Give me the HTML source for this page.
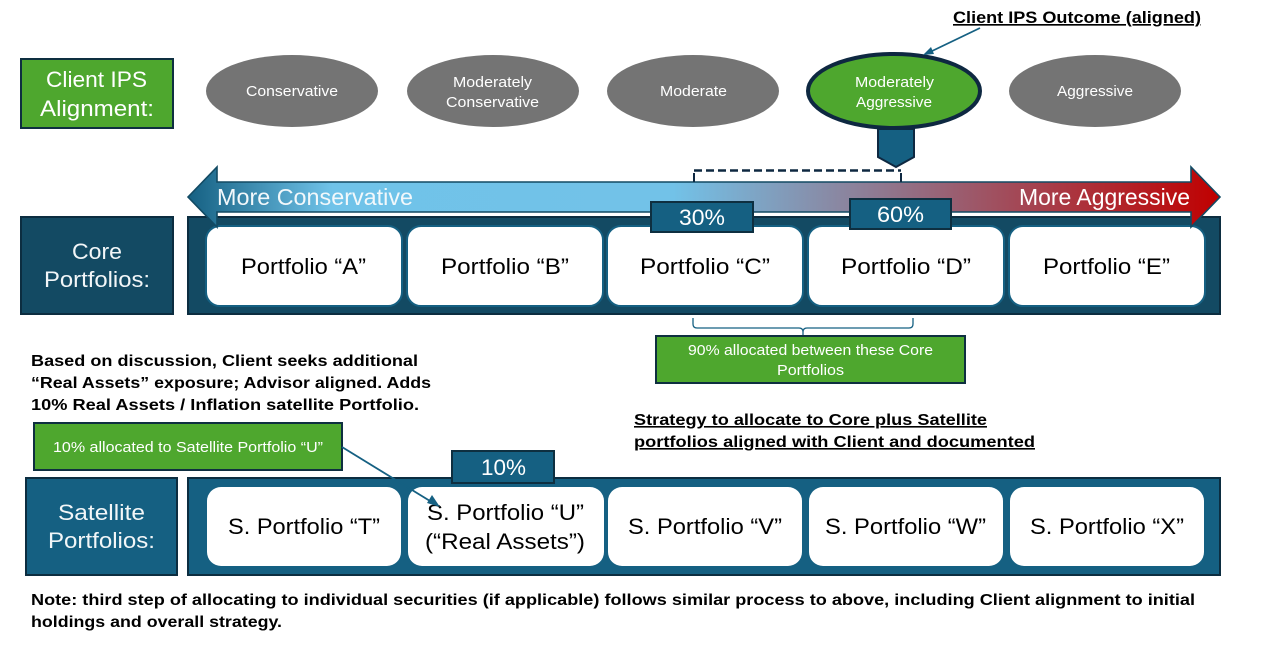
<!DOCTYPE html>
<html><head><meta charset="utf-8"><style>
html,body{margin:0;padding:0;background:#fff;width:1276px;height:648px;overflow:hidden}
svg{display:block}
text{font-family:"Liberation Sans",sans-serif}
.w{fill:#fff}.k{fill:#000}
.b{font-weight:bold;fill:#000;font-size:16px}
.p{font-size:22px;fill:#000}
.l{font-size:22px;fill:#f2f6f8}
.e{font-size:15px;fill:#fff}
</style></head><body>
<svg width="1276" height="648" viewBox="0 0 1276 648" xmlns="http://www.w3.org/2000/svg">
<defs>
<linearGradient id="g" gradientUnits="userSpaceOnUse" x1="188" y1="0" x2="1220" y2="0">
<stop offset="0" stop-color="#156082"/><stop offset=".14" stop-color="#70c3e9"/><stop offset=".47" stop-color="#72c2e8"/><stop offset="1" stop-color="#c00000"/>
</linearGradient>
</defs>

<!-- top row -->
<rect x="21" y="59" width="152" height="69" fill="#4ea72e" stroke="#0e2f40" stroke-width="2"/>
<text class="w" font-size="22" x="46" y="87" textLength="101" lengthAdjust="spacingAndGlyphs">Client IPS</text>
<text class="w" font-size="22" x="40" y="116" textLength="114" lengthAdjust="spacingAndGlyphs">Alignment:</text>

<ellipse cx="292" cy="91" rx="86" ry="36" fill="#747474"/>
<ellipse cx="493" cy="91" rx="86" ry="36" fill="#747474"/>
<ellipse cx="693" cy="91" rx="86" ry="36" fill="#747474"/>
<ellipse cx="1095" cy="91" rx="86" ry="36" fill="#747474"/>
<ellipse cx="894" cy="91" rx="86" ry="37" fill="#4ea72e" stroke="#0e2841" stroke-width="4"/>
<text class="e" x="246" y="96" textLength="92" lengthAdjust="spacingAndGlyphs">Conservative</text>
<text class="e" x="453" y="87" textLength="79" lengthAdjust="spacingAndGlyphs">Moderately</text>
<text class="e" x="446" y="107" textLength="93" lengthAdjust="spacingAndGlyphs">Conservative</text>
<text class="e" x="660" y="96" textLength="67" lengthAdjust="spacingAndGlyphs">Moderate</text>
<text class="e" x="855" y="87" textLength="79" lengthAdjust="spacingAndGlyphs">Moderately</text>
<text class="e" x="856" y="107" textLength="76" lengthAdjust="spacingAndGlyphs">Aggressive</text>
<text class="e" x="1057" y="96" textLength="76" lengthAdjust="spacingAndGlyphs">Aggressive</text>

<text class="k" font-weight="bold" font-size="16.5" x="953" y="23" textLength="248" lengthAdjust="spacingAndGlyphs" text-decoration="underline">Client IPS Outcome (aligned)</text>
<line x1="980" y1="28" x2="930" y2="52" stroke="#156082" stroke-width="1.8"/>
<polygon points="923,55 931,47 934,54" fill="#156082"/>

<!-- pentagon -->
<polygon points="878,129 914,129 914,157 896,167 878,157" fill="#156082" stroke="#0e2841" stroke-width="2"/>

<!-- core panel -->
<rect x="21" y="217" width="152" height="97" fill="#134a63" stroke="#0c2d40" stroke-width="2"/>
<text class="l" x="72" y="259" textLength="50" lengthAdjust="spacingAndGlyphs">Core</text>
<text class="l" x="44" y="287" textLength="106" lengthAdjust="spacingAndGlyphs">Portfolios:</text>
<rect x="188" y="217" width="1032" height="97" fill="#134a63" stroke="#0c2d40" stroke-width="2"/>
<g fill="#fff" stroke="#156082" stroke-width="2">
<rect x="206" y="226" width="196" height="80" rx="14"/>
<rect x="407" y="226" width="196" height="80" rx="14"/>
<rect x="607" y="226" width="196" height="80" rx="14"/>
<rect x="808" y="226" width="196" height="80" rx="14"/>
<rect x="1009" y="226" width="196" height="80" rx="14"/>
</g>
<text class="p" x="241" y="274" textLength="125" lengthAdjust="spacingAndGlyphs">Portfolio “A”</text>
<text class="p" x="441" y="274" textLength="128" lengthAdjust="spacingAndGlyphs">Portfolio “B”</text>
<text class="p" x="640" y="274" textLength="130" lengthAdjust="spacingAndGlyphs">Portfolio “C”</text>
<text class="p" x="841" y="274" textLength="130" lengthAdjust="spacingAndGlyphs">Portfolio “D”</text>
<text class="p" x="1043" y="274" textLength="127" lengthAdjust="spacingAndGlyphs">Portfolio “E”</text>

<!-- gradient arrow -->
<polygon points="188,197 217,167 217,182 1191,182 1191,167 1220,197 1191,227 1191,212 217,212 217,227" fill="url(#g)" stroke="#124a63" stroke-width="1.6"/>
<text font-size="23" fill="#f2f8fb" x="217" y="205" textLength="196" lengthAdjust="spacingAndGlyphs">More Conservative</text>
<text font-size="23" fill="#fff" x="1019" y="205" textLength="171" lengthAdjust="spacingAndGlyphs">More Aggressive</text>

<!-- dashed bracket -->
<path d="M694 170.5H901" fill="none" stroke="#0e2841" stroke-width="2.6" stroke-dasharray="8 4"/>
<path d="M694 173V182M901 173V182" fill="none" stroke="#0e2841" stroke-width="2"/>

<!-- percentage tags -->
<rect x="651" y="202" width="102" height="30" fill="#156082" stroke="#0e2f40" stroke-width="2"/>
<text class="w" font-size="22" x="679" y="225" textLength="46" lengthAdjust="spacingAndGlyphs">30%</text>
<rect x="850" y="199" width="101" height="30" fill="#156082" stroke="#0e2f40" stroke-width="2"/>
<text class="w" font-size="22" x="877" y="222" textLength="47" lengthAdjust="spacingAndGlyphs">60%</text>

<!-- brace -->
<path d="M693 318V324Q693 328 697 328H799Q803 328 803 332V335M803 332Q803 328 807 328H909Q913 328 913 324V318" fill="none" stroke="#156082" stroke-width="1.3"/>
<rect x="656" y="336" width="309" height="47" fill="#4ea72e" stroke="#0e2f40" stroke-width="2"/>
<text class="e" x="688" y="355" textLength="245" lengthAdjust="spacingAndGlyphs">90% allocated between these Core</text>
<text class="e" x="777" y="375" textLength="67" lengthAdjust="spacingAndGlyphs">Portfolios</text>

<!-- left notes -->
<text class="b" x="31" y="366" textLength="387" lengthAdjust="spacingAndGlyphs">Based on discussion, Client seeks additional</text>
<text class="b" x="31" y="388" textLength="400" lengthAdjust="spacingAndGlyphs">“Real Assets” exposure; Advisor aligned. Adds</text>
<text class="b" x="31" y="410" textLength="388" lengthAdjust="spacingAndGlyphs">10% Real Assets / Inflation satellite Portfolio.</text>

<text class="b" x="634" y="425" textLength="353" lengthAdjust="spacingAndGlyphs" text-decoration="underline">Strategy to allocate to Core plus Satellite</text>
<text class="b" x="634" y="447" textLength="401" lengthAdjust="spacingAndGlyphs" text-decoration="underline">portfolios aligned with Client and documented</text>

<!-- satellite panel -->
<rect x="26" y="478" width="151" height="97" fill="#156082" stroke="#0c2d40" stroke-width="2"/>
<text class="l" x="58" y="520" textLength="87" lengthAdjust="spacingAndGlyphs">Satellite</text>
<text class="l" x="48" y="548" textLength="107" lengthAdjust="spacingAndGlyphs">Portfolios:</text>
<rect x="188" y="478" width="1032" height="97" fill="#156082" stroke="#0c2d40" stroke-width="2"/>
<g fill="#fff">
<rect x="207" y="487" width="194" height="79" rx="14"/>
<rect x="408" y="487" width="196" height="79" rx="14"/>
<rect x="608" y="487" width="194" height="79" rx="14"/>
<rect x="809" y="487" width="194" height="79" rx="14"/>
<rect x="1010" y="487" width="194" height="79" rx="14"/>
</g>
<text class="p" x="228" y="534" textLength="152" lengthAdjust="spacingAndGlyphs">S. Portfolio “T”</text>
<text class="p" x="427" y="520" textLength="157" lengthAdjust="spacingAndGlyphs">S. Portfolio “U”</text>
<text class="p" x="425" y="549" textLength="160" lengthAdjust="spacingAndGlyphs">(“Real Assets”)</text>
<text class="p" x="628" y="534" textLength="154" lengthAdjust="spacingAndGlyphs">S. Portfolio “V”</text>
<text class="p" x="825" y="534" textLength="161" lengthAdjust="spacingAndGlyphs">S. Portfolio “W”</text>
<text class="p" x="1030" y="534" textLength="154" lengthAdjust="spacingAndGlyphs">S. Portfolio “X”</text>

<rect x="34" y="423" width="308" height="47" fill="#4ea72e" stroke="#0e2f40" stroke-width="2"/>
<text class="e" x="53" y="452" textLength="270" lengthAdjust="spacingAndGlyphs">10% allocated to Satellite Portfolio “U”</text>
<line x1="342" y1="447" x2="430" y2="501" stroke="#156082" stroke-width="1.8"/>
<polygon points="440,507 427,503 432,495" fill="#156082"/>

<rect x="452" y="451" width="102" height="32" fill="#156082" stroke="#0e2f40" stroke-width="2"/>
<text class="w" font-size="22" x="481" y="475" textLength="45" lengthAdjust="spacingAndGlyphs">10%</text>

<!-- bottom note -->
<text class="b" x="31" y="605" textLength="1164" lengthAdjust="spacingAndGlyphs">Note: third step of allocating to individual securities (if applicable) follows similar process to above, including Client alignment to initial</text>
<text class="b" x="31" y="627" textLength="251" lengthAdjust="spacingAndGlyphs">holdings and overall strategy.</text>
</svg>
</body></html>
